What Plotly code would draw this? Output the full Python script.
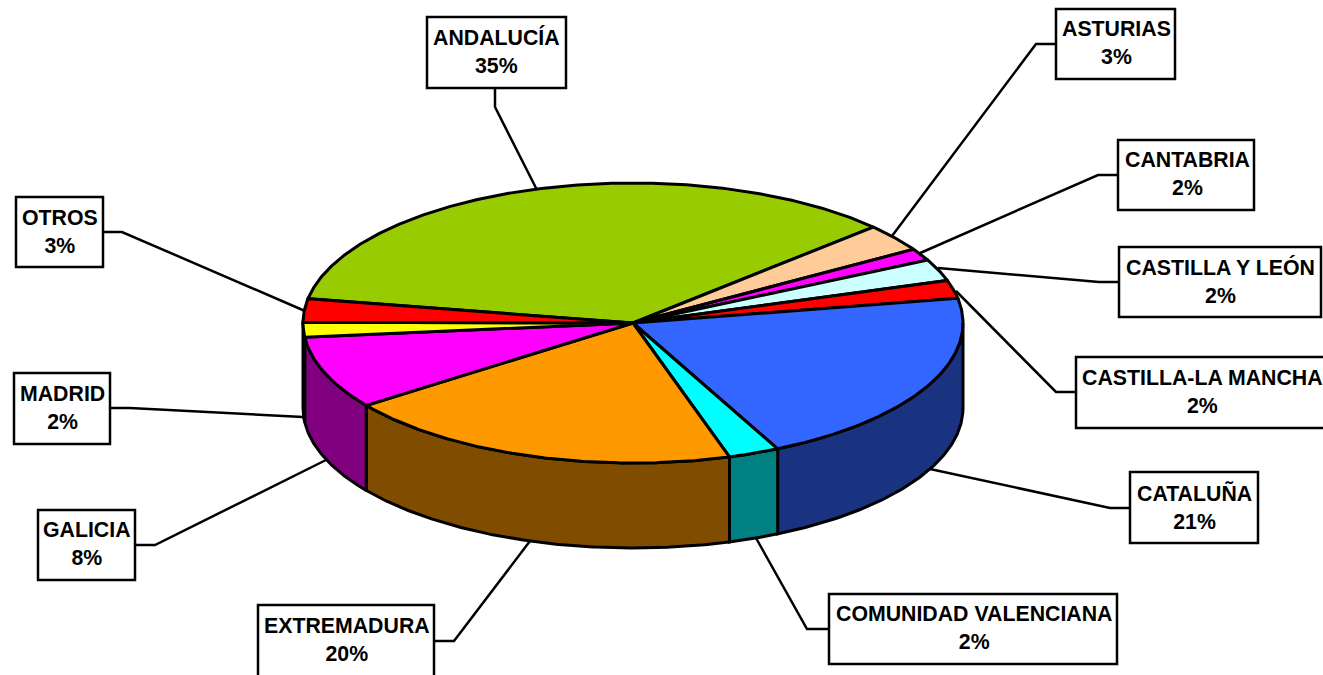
import numpy as np
import plotly.graph_objects as go

# Data
categories = ["ANDALUCÍA", "ASTURIAS", "CANTABRIA", "CASTILLA Y LEÓN", "CASTILLA-LA MANCHA",
              "CATALUÑA", "COMUNIDAD VALENCIANA", "EXTREMADURA", "GALICIA", "MADRID", "OTROS"]
values = [35.2, 3.2, 1.4, 2.5, 2.1, 20.6, 2.5, 19.7, 8.4, 1.7, 2.7]
percent_labels = ["35%", "3%", "2%", "2%", "2%", "21%", "2%", "20%", "8%", "2%", "3%"]

# Styles
top_colors = ["#99CC00", "#FFCC99", "#FF00FF", "#CCFFFF", "#FF0000", "#3366FF",
              "#00FFFF", "#FF9900", "#FF00FF", "#FFFF00", "#FF0000"]
side_colors = ["#4C6600", "#806650", "#800080", "#668080", "#800000", "#1A3380",
               "#008080", "#804C00", "#800080", "#808000", "#800000"]

# Layout of the pie in pixel space
CX, CY, RX, RY, DEPTH = 633, 323, 330, 140, 85
START_DEG = -80
LW = 3

# Label boxes: x0, y0, x1, y1
boxes = [(427, 17, 566, 88), (1056, 9, 1175, 79), (1118, 140, 1254, 210), (1119, 247, 1321, 317),
         (1076, 357, 1330, 428), (1130, 472, 1258, 543), (829, 594, 1117, 664), (258, 605, 434, 685),
         (38, 510, 135, 580), (14, 373, 110, 444), (16, 197, 103, 267)]
text_centers = [(496, 51), (1116, 43), (1187, 174), (1220, 281),
                (1202, 392), (1194, 507), (974, 628), (347, 640),
                (87, 544), (62, 408), (60, 232)]
leaders = [[(495, 88), (495, 107), (537, 190)],
           [(1056, 44), (1036, 44), (892, 236)],
           [(1118, 175), (1098, 175), (918, 254)],
           [(1119, 282), (1099, 282), (938, 268)],
           [(1076, 392), (1056, 392), (956, 291)],
           [(1130, 508), (1110, 508), (930, 469)],
           [(829, 629), (807, 629), (756, 538)],
           [(434, 641), (454, 641), (530, 541)],
           [(135, 545), (155, 545), (328, 459)],
           [(110, 408), (130, 408), (303, 417)],
           [(103, 232), (122, 232), (305, 311)]]


def arc(a0, a1, dy=0.0):
    n = max(2, int(abs(a1 - a0) * 2) + 2)
    t = np.radians(np.linspace(a0, a1, n))
    return CX + RX * np.sin(t), CY - RY * np.cos(t) + dy


fig = go.Figure()


def poly(x, y, color):
    fig.add_trace(go.Scatter(x=list(x), y=list(y), mode="lines", fill="toself", fillcolor=color,
                             line=dict(color="black", width=LW), hoverinfo="skip", showlegend=False))


for pts in leaders:
    fig.add_trace(go.Scatter(x=[p[0] for p in pts], y=[p[1] for p in pts], mode="lines",
                             line=dict(color="black", width=2.5), hoverinfo="skip", showlegend=False))

total = sum(values)
edges = START_DEG + np.concatenate([[0], np.cumsum(values)]) / total * 360

# Visible wall of the pie (front half of the ellipse)
for i in range(len(values)):
    a0, a1 = max(edges[i], 90), min(edges[i + 1], 270)
    if a1 > a0:
        xt, yt = arc(a0, a1)
        xb, yb = arc(a1, a0, DEPTH)
        poly(np.r_[xt, xb, xt[0]], np.r_[yt, yb, yt[0]], side_colors[i])

# Top face
for i in range(len(values)):
    xt, yt = arc(edges[i], edges[i + 1])
    poly(np.r_[CX, xt, CX], np.r_[CY, yt, CY], top_colors[i])

shapes = [dict(type="rect", x0=b[0], y0=b[1], x1=b[2], y1=b[3], xref="x", yref="y",
               line=dict(color="black", width=2.5), fillcolor="white", layer="above") for b in boxes]
annotations = [dict(x=c[0], y=c[1], xref="x", yref="y", text=f"{n}<br>{p}", showarrow=False,
                    align="center", xanchor="center", yanchor="middle",
                    font=dict(family="Liberation Sans", size=21.3, color="black", weight=700))
               for c, n, p in zip(text_centers, categories, percent_labels)]

fig.update_layout(
    width=1323, height=675, margin=dict(l=0, r=0, t=0, b=0), autosize=False,
    paper_bgcolor="white", plot_bgcolor="white", showlegend=False,
    shapes=shapes, annotations=annotations,
    xaxis=dict(range=[0, 1323], visible=False, fixedrange=True),
    yaxis=dict(range=[675, 0], visible=False, fixedrange=True),
)
fig.write_html("out.html", config=dict(displayModeBar=False),
               post_script="document.body.style.margin='0';document.body.style.overflow='hidden';")
